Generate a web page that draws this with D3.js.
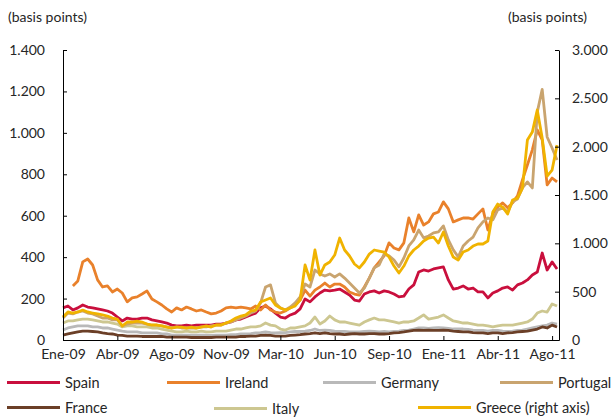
<!DOCTYPE html>
<html>
<head>
<meta charset="utf-8">
<script src="https://cdn.jsdelivr.net/npm/d3@7"></script>
<style>
  body { margin: 0; background: #fff; }
  text { font-family: Lato, "Open Sans", sans-serif; fill: #262626; }
</style>
</head>
<body>
<div id="chart"></div>
<script>
// x categories: observation index, labelled every 11 observations
var tickLabels = ["Ene-09", "Abr-09", "Ago-09", "Nov-09", "Mar-10", "Jun-10", "Sep-10", "Ene-11", "Abr-11", "Ago-11"];
var tickStep = 11;

// CDS spreads, basis points (Greece on the right axis)
var spain = [155,164,145,155,169,159,155,150,145,140, 130,111,92,106,101,101,106,106,97,92,
  87,82,72,68,68,72,68,72,72,72, 72,77,77,82,87,97,101,111,121,130,
  155,164,150,130,111,106,121,130,150,198, 184,208,227,241,237,241,246,232,217,193,
  188,222,232,237,227,237,232,222,208,212, 246,266,328,338,333,343,348,353,290,246,
  251,261,246,251,232,232,203,227,237,251, 256,241,266,275,290,314,328,420,338,377, 343];
var ireland = [null,null,261,285,377,391,362,290,256,261, 232,246,227,184,203,208,222,237,198,184,
  169,150,135,155,145,159,150,140,145,135, 126,130,140,155,159,155,159,155,150,164,
  145,169,145,135,130,140,155,169,193,241, 212,241,256,275,256,270,270,256,232,222,
  217,256,299,348,377,406,469,444,435,469, 589,522,604,555,570,609,618,667,633,570,
  580,589,589,584,609,633,531,609,642,662, 638,662,696,773,845,918,1014,966,749,782, 763];
var germany = [48,58,63,68,68,68,63,63,58,58, 53,48,43,39,39,39,34,34,34,34,
  29,29,24,24,24,24,24,24,24,24, 22,24,24,24,26,26,29,29,31,34,
  36,39,36,34,36,36,39,41,41,43, 46,53,46,48,46,43,41,41,39,39,
  39,41,43,41,39,41,39,41,43,46, 48,53,58,58,56,58,60,58,56,53,
  53,53,51,48,46,46,43,46,46,43, 41,43,46,48,53,58,63,68,72,82, 77];
var portugal = [106,130,126,135,140,130,126,116,106,106, 97,97,68,77,82,82,82,77,72,72,
  68,63,58,63,58,58,58,58,63,63, 68,72,72,82,87,97,106,116,130,140,
  179,256,266,179,155,145,159,179,208,270, 256,338,319,309,319,304,319,299,275,251,
  227,251,299,348,362,415,406,386,353,396, 454,483,531,493,502,517,522,551,483,435,
  401,454,478,497,541,570,589,580,628,638, 618,667,681,734,763,734,1100,1210,980,927, 869];
var france = [24,29,34,39,43,43,41,39,34,31, 29,24,22,19,19,19,17,17,17,17,
  17,14,14,14,14,14,12,12,12,12, 12,14,14,14,14,14,17,17,19,19,
  22,24,22,19,19,19,22,24,26,29, 31,34,31,34,31,29,29,26,29,31,
  29,29,31,31,29,29,31,34,36,39, 43,46,48,46,48,46,46,48,46,43,
  41,39,39,36,34,34,31,34,34,31, 34,36,39,41,43,48,53,63,58,72, 63];
var italy = [82,92,92,97,101,101,97,92,87,87, 82,77,63,68,68,63,63,63,58,58,
  53,48,43,39,39,43,39,39,43,39, 39,43,43,43,48,53,53,58,63,63,
  68,82,72,68,53,48,58,58,63,68, 82,111,77,92,116,97,87,87,82,77,
  72,87,97,106,97,97,92,87,82,87, 87,92,106,121,101,106,111,121,106,92,
  87,82,82,77,72,72,68,63,68,72, 72,72,77,82,87,101,130,140,135,174, 164];
var greece = [238,290,279,290,310,290,279,269,259,248, 227,217,145,186,186,196,186,165,155,155,
  145,134,124,134,134,124,134,124,134,145, 134,155,155,176,196,227,248,259,300,310,
  393,414,434,362,331,310,331,352,414,776, 620,931,672,776,807,879,1055,931,869,786,
  745,807,889,931,920,910,858,765,693,765, 869,931,972,1024,1055,1065,1003,1117,972,858,
  827,910,931,972,993,993,1024,1324,1406,1375, 1303,1448,1468,1572,2068,2151,2379,2089,1696,1758, 2016];

var leftTicks = [0, 200, 400, 600, 800, 1000, 1200, 1400];
var rightTicks = [0, 500, 1000, 1500, 2000, 2500, 3000];

var width = 614;
var height = 418;
var plot = { left: 63, right: 559, top: 50, bottom: 340 };

// drawing order (last on top)
var series = [
  { name: "Germany", values: germany, color: "#b9b9b9", axis: "left" },
  { name: "France", values: france, color: "#6b3f27", axis: "left" },
  { name: "Italy", values: italy, color: "#cdc791", axis: "left" },
  { name: "Spain", values: spain, color: "#c90f3d", axis: "left" },
  { name: "Ireland", values: ireland, color: "#e9812b", axis: "left" },
  { name: "Portugal", values: portugal, color: "#c9a46f", axis: "left" },
  { name: "Greece (right axis)", values: greece, color: "#f0b300", axis: "right" }
];

// legend order and slots [x, y]
var legendOrder = ["Spain", "Ireland", "Germany", "Portugal", "France", "Italy", "Greece (right axis)"];
var legendSlots = [[7, 382.5], [167, 382.5], [323, 382.5], [500, 382.5], [7, 407.5], [214, 408.5], [418, 407.5]];

var locale = d3.formatLocale({ decimal: ",", thousands: ".", grouping: [3], currency: ["", "€"] });
var fmt = locale.format(",");

var svg = d3.select("#chart")
  .append("svg")
  .attr("width", width)
  .attr("height", height);

var x = d3.scaleLinear()
  .domain([0, 100.4])
  .range([plot.left, plot.right]);

var yLeft = d3.scaleLinear()
  .domain([0, 1400])
  .range([plot.bottom, plot.top]);

var yRight = d3.scaleLinear()
  .domain([0, 3000])
  .range([plot.bottom, plot.top]);

// lines
series.forEach(function (s) {
  var yScale = s.axis === "left" ? yLeft : yRight;
  var line = d3.line()
    .defined(function (d) { return d !== null; })
    .x(function (d, i) { return x(i); })
    .y(function (d) { return yScale(d); });
  svg.append("path")
    .datum(s.values)
    .attr("fill", "none")
    .attr("stroke", s.color)
    .attr("stroke-width", 2.8)
    .attr("stroke-linejoin", "round")
    .attr("d", line);
});

// axes
var axisLeft = svg.append("g")
  .attr("transform", "translate(" + plot.left + ",0)")
  .call(d3.axisLeft(yLeft).tickValues(leftTicks).tickFormat(fmt)
    .tickSizeInner(-4).tickSizeOuter(0).tickPadding(18));

var axisRight = svg.append("g")
  .attr("transform", "translate(" + plot.right + ",0)")
  .call(d3.axisRight(yRight).tickValues(rightTicks).tickFormat(fmt)
    .tickSizeInner(-4).tickSizeOuter(0).tickPadding(13));

var axisBottom = svg.append("g")
  .attr("transform", "translate(0," + plot.bottom + ")")
  .call(d3.axisBottom(x)
    .tickValues(tickLabels.map(function (d, i) { return i * tickStep; }))
    .tickFormat(function (d) { return tickLabels[d / tickStep]; })
    .tickSizeInner(-4).tickSizeOuter(0).tickPadding(9));

[axisLeft, axisRight, axisBottom].forEach(function (g) {
  g.selectAll("path, line").attr("stroke", "#000").attr("stroke-width", 1);
  g.selectAll("text")
    .style("font-family", "Lato, 'Open Sans', sans-serif")
    .style("font-size", "14px")
    .attr("fill", "#262626");
});

// units
svg.append("text")
  .attr("x", 8)
  .attr("y", 22)
  .style("font-size", "14px")
  .text("(basis points)");

svg.append("text")
  .attr("x", 508)
  .attr("y", 22)
  .style("font-size", "14px")
  .text("(basis points)");

// legend
var legend = svg.append("g");
legendOrder.forEach(function (name, i) {
  var s = series.find(function (d) { return d.name === name; });
  var slot = legendSlots[i];
  var item = legend.append("g")
    .attr("transform", "translate(" + slot[0] + "," + slot[1] + ")");
  item.append("line")
    .attr("x1", 0).attr("x2", 53)
    .attr("y1", 0).attr("y2", 0)
    .attr("stroke", s.color)
    .attr("stroke-width", 3);
  item.append("text")
    .attr("x", 58)
    .attr("y", 0)
    .attr("dy", "0.35em")
    .style("font-size", "14.5px")
    .text(name);
});
</script>
</body>
</html>
